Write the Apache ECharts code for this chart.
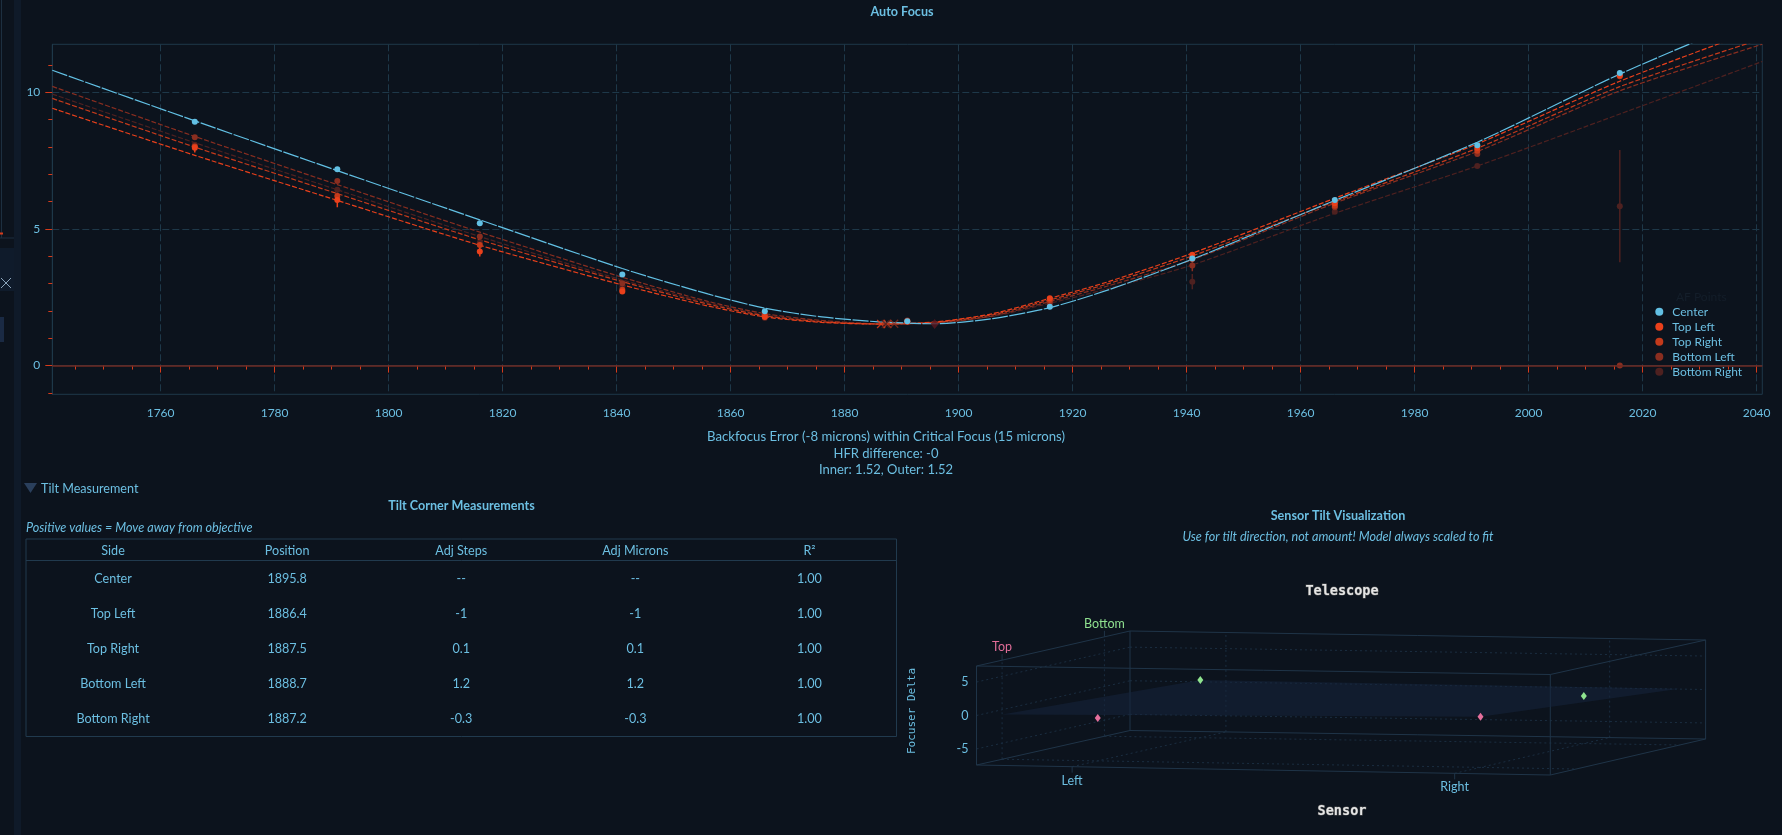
<!DOCTYPE html>
<html>
<head>
<meta charset="utf-8">
<script src="https://cdn.jsdelivr.net/npm/echarts@6.0.0/dist/echarts.min.js"></script>
<style>
html,body{margin:0;padding:0;background:#0c131d;}
#c{width:1782px;height:835px;}
</style>
</head>
<body>
<div id="c"></div>
<script>
// ---------------- DATA ----------------
const seriesNames = ['Center', 'Top Left', 'Top Right', 'Bottom Left', 'Bottom Right'];
const focusPositions = [1766, 1791, 1816, 1841, 1866, 1891, 1916, 1941, 1966, 1991, 2016];
const hfrCenter      = [8.92, 7.18, 5.21, 3.33, 1.99, 1.62, 2.15, 3.92, 6.06, 8.06, 10.70];
const hfrTopLeft     = [7.97, 6.06, 4.17, 2.71, 1.78, 1.60, 2.46, 4.05, 5.94, 7.97, 10.62];
const hfrTopRight    = [8.01, 6.20, 4.41, 2.77, 1.82, 1.62, 2.40, 3.90, 5.85, 7.86, 10.58];
const hfrBottomLeft  = [8.35, 6.75, 4.72, 3.01, 1.86, 1.65, 2.32, 3.66, 5.79, 7.74, 0];
const hfrBottomRight = [8.08, 6.43, 4.50, 2.89, 1.74, 1.60, 2.25, 3.07, 5.63, 7.30, 5.83];

const errCenter      = [0, 0, 0, 0, 0, 0, 0, 0, 0, 0, 0];
const errTopLeft     = [0.18, 0.27, 0.18, 0, 0, 0, 0, 0, 0, 0, 0];
const errTopRight    = [0, 0, 0, 0, 0, 0, 0, 0, 0, 0, 0];
const errBottomLeft  = [0, 0, 0, 0, 0, 0, 0, 0.21, 0, 0, 0];
const errBottomRight = [0, 0, 0, 0, 0, 0, 0, 0.28, 0, 0, 2.05];

const fitPositions   = [1741, 1766, 1791, 1816, 1841, 1856, 1866, 1876, 1886, 1896, 1906, 1916, 1926, 1941, 1966, 1991, 2016, 2041];
const fitCenter      = [10.80, 8.95, 7.13, 5.33, 3.55, 2.62, 2.10, 1.78, 1.60, 1.53, 1.72, 2.12, 2.75, 3.89, 6.04, 8.17, 10.66, 12.88];
const fitTopLeft     = [9.41, 7.69, 6.04, 4.40, 2.95, 2.18, 1.78, 1.58, 1.52, 1.60, 1.90, 2.46, 3.05, 4.11, 6.12, 8.11, 10.40, 12.35];
const fitTopRight    = [9.77, 7.99, 6.29, 4.60, 3.07, 2.25, 1.82, 1.60, 1.52, 1.58, 1.86, 2.40, 2.98, 4.01, 6.00, 7.95, 10.20, 11.95];
const fitBottomLeft  = [10.21, 8.38, 6.62, 4.88, 3.23, 2.35, 1.90, 1.65, 1.53, 1.56, 1.82, 2.34, 2.90, 3.87, 5.94, 7.83, 10.05, 11.75];
const fitBottomRight = [9.93, 8.15, 6.43, 4.72, 3.13, 2.30, 1.85, 1.62, 1.52, 1.56, 1.80, 2.28, 2.80, 3.68, 5.57, 7.30, 9.20, 11.12];

const minimaHfr = [1.52, 1.52, 1.52, 1.53, 1.52];

const xTickLabels = [1760, 1780, 1800, 1820, 1840, 1860, 1880, 1900, 1920, 1940, 1960, 1980, 2000, 2020, 2040];
const yTickLabels = [0, 5, 10];

// table
const tableHeaders    = ['Side', 'Position', 'Adj Steps', 'Adj Microns', 'R\u00b2'];
const tableSides      = ['Center', 'Top Left', 'Top Right', 'Bottom Left', 'Bottom Right'];
const tablePositions  = [1895.8, 1886.4, 1887.5, 1888.7, 1887.2];
const tableAdjSteps   = ['--', '-1', '0.1', '1.2', '-0.3'];
const tableAdjMicrons = ['--', '-1', '0.1', '1.2', '-0.3'];
const tableR2         = ['1.00', '1.00', '1.00', '1.00', '1.00'];

// tilt model
const tiltNames  = ['Top Left', 'Top Right', 'Bottom Left', 'Bottom Right'];
const tiltX      = [-1, 1, -1, 1];
const tiltY      = [-1, -1, 1, 1];
const tiltDelta  = [-1, 0.1, 1.2, -0.3];
const planeX = [-1.5, 1, 1.5, -1];
const planeY = [-1, -1, 1, 1];
const planeZ = [-0.72, 0.1, 0.99, 1.2];
const tiltZTicks = [-5, 0, 5];
const tiltXTicks = [-1, 1];
const tiltXTickText = ['Left', 'Right'];
const tiltYTicks = [-1, 1];
const tiltYTickText = ['Top', 'Bottom'];

// ---------------- STYLE ----------------
const colors = ['#62c0e4', '#ea401b', '#c43a1b', '#8a2e20', '#4e2120'];
const textColor = '#6cbfe2';
const uiFont = 'Lato, "Segoe UI", "Noto Sans", sans-serif';
const uiSize = 12.6;
const gridColor = '#1e3849';
const tickRed = '#d63b1b';

const hfrData = [hfrCenter, hfrTopLeft, hfrTopRight, hfrBottomLeft, hfrBottomRight];
const errData = [errCenter, errTopLeft, errTopRight, errBottomLeft, errBottomRight];
const fitData = [fitCenter, fitTopLeft, fitTopRight, fitBottomLeft, fitBottomRight];

const series = [];
const drawOrder = [4, 3, 2, 1, 0];
drawOrder.forEach(i => {
  series.push({
    type: 'line', name: seriesNames[i],
    data: fitPositions.map((x, k) => [x, fitData[i][k]]),
    showSymbol: false, symbol: 'none', smooth: 0.25,
    color: colors[i], itemStyle: {color: colors[i]},
    lineStyle: {color: colors[i], width: 1.2, type: i === 0 ? [16, 1.5] : [5, 2]},
    z: 2, silent: true, clip: true
  });
});
drawOrder.forEach(i => {
  const data = [];
  focusPositions.forEach((x, k) => { if (errData[i][k] > 0) data.push([x, hfrData[i][k] - errData[i][k], hfrData[i][k] + errData[i][k]]); });
  series.push({
    type: 'custom', coordinateSystem: 'cartesian2d', data: data, z: 3, silent: true,
    encode: {x: 0, y: [1, 2]},
    renderItem: function (p, api) {
      const a = api.coord([api.value(0), api.value(1)]);
      const b = api.coord([api.value(0), api.value(2)]);
      return {type: 'line', shape: {x1: a[0], y1: a[1], x2: b[0], y2: b[1]}, style: {stroke: colors[i], lineWidth: 1.5}};
    }
  });
});
drawOrder.forEach(i => {
  series.push({
    type: 'scatter', name: seriesNames[i],
    data: focusPositions.map((x, k) => [x, hfrData[i][k]]),
    symbol: 'circle', symbolSize: 6,
    color: colors[i], itemStyle: {color: colors[i], opacity: 1},
    z: 4, silent: true,
    markLine: i === 4 ? {
      silent: true, symbol: 'none', label: {show: false},
      lineStyle: {color: '#6f2a22', type: 'solid', width: 1.6},
      data: [{yAxis: 0}]
    } : undefined
  });
});
// minima markers (corner fits: X, center: diamond)
series.push({
  type: 'scatter', name: 'minima', silent: true, z: 5,
  data: [1, 2, 3, 4].map(i => ({
    value: [tablePositions[i], minimaHfr[i]],
    itemStyle: {color: 'rgba(0,0,0,0)', borderColor: colors[i], borderWidth: 1.3}
  })),
  symbol: 'path://M0,0L10,10M10,0L0,10', symbolSize: 8
});
series.push({
  type: 'scatter', name: 'centerMin', silent: true, z: 5,
  data: [[tablePositions[0], minimaHfr[0]]],
  symbol: 'diamond', symbolSize: [8, 10], itemStyle: {color: '#5a1820'}
});

// ---------------- 3D TILT MODEL ----------------
const box = {xr: [-1.5, 1.5], yr: [-1.5, 1.5], zr: [-7.4, 7.4]};
const boxPx = {
  '000': [976.5, 765], '100': [1550.3, 775], '010': [1130, 730.5], '110': [1705.6, 739],
  '001': [976.5, 666], '101': [1550.3, 674.5], '011': [1130, 631], '111': [1705.6, 640]
};
function proj(x, y, z) {
  const u = (x - box.xr[0]) / (box.xr[1] - box.xr[0]);
  const v = (y - box.yr[0]) / (box.yr[1] - box.yr[0]);
  const w = (z - box.zr[0]) / (box.zr[1] - box.zr[0]);
  let px = 0, py = 0;
  [0, 1].forEach(a => [0, 1].forEach(b => [0, 1].forEach(c => {
    const wt = (a ? u : 1 - u) * (b ? v : 1 - v) * (c ? w : 1 - w);
    const p = boxPx['' + a + b + c];
    px += wt * p[0]; py += wt * p[1];
  })));
  return [px, py];
}
function seg(p, q, stroke, dash) {
  return {type: 'line', shape: {x1: p[0], y1: p[1], x2: q[0], y2: q[1]},
    style: {stroke: stroke, lineWidth: 1, lineDash: dash || null}};
}
const X0 = box.xr[0], X1 = box.xr[1], Y0 = box.yr[0], Y1 = box.yr[1], Z0 = box.zr[0], Z1 = box.zr[1];
const edgeColor = '#1f3448', dashColor = '#1a2d40';
series.push({
  type: 'custom', coordinateSystem: 'none', data: [[0]], silent: true, z: 1,
  renderItem: function () {
    const ch = [];
    tiltZTicks.forEach(z => {
      ch.push(seg(proj(X0, Y0, z), proj(X0, Y1, z), dashColor, [2, 3]));
      ch.push(seg(proj(X0, Y1, z), proj(X1, Y1, z), dashColor, [2, 3]));
    });
    tiltXTicks.forEach(x => {
      ch.push(seg(proj(x, Y1, Z0), proj(x, Y1, Z1), dashColor, [2, 3]));
      ch.push(seg(proj(x, Y0, Z0), proj(x, Y1, Z0), dashColor, [2, 3]));
    });
    tiltYTicks.forEach(y => {
      ch.push(seg(proj(X0, y, Z0), proj(X0, y, Z1), dashColor, [2, 3]));
      ch.push(seg(proj(X0, y, Z0), proj(X1, y, Z0), dashColor, [2, 3]));
    });
    const C = [[X0, Y0], [X1, Y0], [X1, Y1], [X0, Y1]];
    for (let k = 0; k < 4; k++) {
      const a = C[k], b = C[(k + 1) % 4];
      ch.push(seg(proj(a[0], a[1], Z0), proj(b[0], b[1], Z0), edgeColor));
      ch.push(seg(proj(a[0], a[1], Z1), proj(b[0], b[1], Z1), edgeColor));
      ch.push(seg(proj(a[0], a[1], Z0), proj(a[0], a[1], Z1), edgeColor));
    }
    tiltXTicks.forEach((x, k) => {
      const p = proj(x, Y0, Z0);
      ch.push(seg(p, [p[0], p[1] + 6], edgeColor));
      ch.push({type: 'text', style: {text: tiltXTickText[k], x: p[0], y: p[1] + 14, fill: textColor,
        fontSize: 12.5, fontFamily: uiFont, textAlign: 'center', textVerticalAlign: 'middle'}});
    });
    tiltYTicks.forEach((y, k) => {
      const p = proj(X0, y, Z1);
      ch.push(seg(p, [p[0], p[1] - 6], edgeColor));
      ch.push({type: 'text', style: {text: tiltYTickText[k], x: p[0], y: p[1] - 13,
        fill: k === 0 ? '#e06d98' : '#8fe08f', fontSize: 12.5, fontFamily: uiFont,
        textAlign: 'center', textVerticalAlign: 'middle'}});
    });
    tiltZTicks.forEach(z => {
      const p = proj(X0, Y0, z);
      ch.push({type: 'text', style: {text: String(z), x: p[0] - 8, y: p[1], fill: textColor,
        fontSize: 12.5, fontFamily: uiFont, textAlign: 'right', textVerticalAlign: 'middle'}});
    });
    ch.push({type: 'polygon', shape: {points: planeX.map((x, k) => proj(x, planeY[k], planeZ[k]))},
      style: {fill: 'rgba(22,36,60,0.55)', stroke: null}});
    return {type: 'group', children: ch};
  }
});
series.push({
  type: 'custom', coordinateSystem: 'none', silent: true, z: 6,
  data: tiltNames.map((n, k) => [tiltX[k], tiltY[k], tiltDelta[k]]),
  renderItem: function (p, api) {
    const c = proj(api.value(0), api.value(1), api.value(2));
    const col = api.value(1) < 0 ? '#e56f9c' : '#8fe48f';
    return {type: 'polygon', shape: {points: [[c[0], c[1] - 4], [c[0] + 3, c[1]], [c[0], c[1] + 4], [c[0] - 3, c[1]]]},
      style: {fill: col}};
  }
});

// ---------------- GRAPHIC (texts, table, chrome) ----------------
function txt(text, x, y, opt) {
  opt = opt || {};
  return {type: 'text', silent: true, z: 10, x: opt.ex || 0, y: opt.ey || 0, rotation: opt.rot || 0,
    style: Object.assign({text: text, x: x, y: y, fill: textColor, fontSize: uiSize, fontFamily: uiFont,
      textAlign: 'center', textVerticalAlign: 'middle'}, opt.style || {})};
}
const graphics = [];
graphics.push({type: 'rect', silent: true, shape: {x: 14, y: 0, width: 7, height: 835}, style: {fill: '#0f1a29'}});
graphics.push({type: 'line', silent: true, shape: {x1: 1.5, y1: 0, x2: 1.5, y2: 238}, style: {stroke: '#1d2f40', lineWidth: 1}});
graphics.push({type: 'line', silent: true, shape: {x1: 0, y1: 238, x2: 14, y2: 238}, style: {stroke: '#1d2f40', lineWidth: 1}});
graphics.push({type: 'rect', silent: true, shape: {x: 0, y: 232.5, width: 3, height: 2}, style: {fill: tickRed}});
graphics.push({type: 'rect', silent: true, shape: {x: 0, y: 248, width: 14, height: 43}, style: {fill: '#0f1b2b'}});
graphics.push({type: 'line', silent: true, shape: {x1: 1, y1: 278, x2: 11, y2: 288}, style: {stroke: '#8aa4bb', lineWidth: 1}});
graphics.push({type: 'line', silent: true, shape: {x1: 11, y1: 278, x2: 1, y2: 288}, style: {stroke: '#8aa4bb', lineWidth: 1}});
graphics.push({type: 'rect', silent: true, shape: {x: 0, y: 317, width: 4, height: 25}, style: {fill: '#1a2a44'}});
graphics.push(txt('Auto Focus', 902, 11.5, {style: {fontWeight: 'bold'}}));
graphics.push(txt('Backfocus Error (-8 microns) within Critical Focus (15 microns)', 886, 436.5, {style: {fontSize: 13.2}}));
graphics.push(txt('HFR difference: -0', 886, 453.5, {style: {fontSize: 13}}));
graphics.push(txt('Inner: 1.52, Outer: 1.52', 886, 469.5, {style: {fontSize: 13}}));
graphics.push(txt('AF Points', 1676, 297, {style: {textAlign: 'left', fill: '#141e2a', fontSize: 12}}));
graphics.push({type: 'polygon', silent: true, shape: {points: [[24, 483], [37, 483], [30.5, 493]]}, style: {fill: '#2a3f5c'}});
graphics.push(txt('Tilt Measurement', 41, 489, {style: {textAlign: 'left'}}));
graphics.push(txt('Tilt Corner Measurements', 461.5, 505.5, {style: {fontWeight: 'bold'}}));
graphics.push(txt('Positive values = Move away from objective', 26, 527.5, {style: {textAlign: 'left', fontStyle: 'italic'}}));
const tL = 26, tR = 896.5, tT = 539, tB = 736.5, tHead = 560.5;
graphics.push({type: 'rect', silent: true, shape: {x: tL, y: tT, width: tR - tL, height: tB - tT}, style: {fill: null, stroke: '#213a4e', lineWidth: 1}});
graphics.push({type: 'line', silent: true, shape: {x1: tL, y1: tHead, x2: tR, y2: tHead}, style: {stroke: '#213a4e', lineWidth: 1}});
const colW = (tR - tL) / tableHeaders.length;
const colX = tableHeaders.map((h, k) => tL + colW * (k + 0.5));
tableHeaders.forEach((h, k) => graphics.push(txt(h, colX[k], 551)));
const rowY = [579, 614, 649, 684, 719];
tableSides.forEach((s, r) => {
  const row = [s, tablePositions[r].toFixed(1), tableAdjSteps[r], tableAdjMicrons[r], tableR2[r]];
  row.forEach((v, k) => graphics.push(txt(v, colX[k], rowY[r])));
});
graphics.push(txt('Sensor Tilt Visualization', 1338, 516, {style: {fontWeight: 'bold'}}));
graphics.push(txt('Use for tilt direction, not amount! Model always scaled to fit', 1338, 536.5, {style: {fontStyle: 'italic'}}));
graphics.push(txt('Telescope', 1342, 591, {style: {fontFamily: '"DejaVu Sans Mono", monospace', fontWeight: 'bold', fontSize: 13.5, fill: '#e4e4e4', stroke: '#555', lineWidth: 1}}));
graphics.push(txt('Sensor', 1342, 811.5, {style: {fontFamily: '"DejaVu Sans Mono", monospace', fontWeight: 'bold', fontSize: 13.5, fill: '#e4e4e4', stroke: '#555', lineWidth: 1}}));
graphics.push(txt('Focuser Delta', 0, 0, {ex: 912, ey: 711, rot: Math.PI / 2, style: {fontFamily: '"DejaVu Sans Mono", monospace', fontSize: 11}}));

// ---------------- OPTION ----------------
const chart = echarts.init(document.getElementById('c'));
chart.setOption({
  backgroundColor: '#0c131d',
  animation: false,
  grid: {left: 52.3, right: 19.7, top: 44.3, bottom: 440.7, show: true, borderColor: gridColor, borderWidth: 1, containLabel: false},
  xAxis: {
    type: 'value', min: 1741, max: 2041, splitNumber: 15, minInterval: 20, maxInterval: 20,
    axisLine: {show: true, lineStyle: {color: gridColor}},
    axisTick: {show: true, length: 7, lineStyle: {color: tickRed}, customValues: xTickLabels},
    minorTick: {show: true, splitNumber: 4, length: 4, lineStyle: {color: tickRed}},
    axisLabel: {color: textColor, fontSize: 12, fontFamily: uiFont, margin: 13, customValues: xTickLabels,
      formatter: v => (xTickLabels.indexOf(Math.round(v)) >= 0 && Math.abs(v - Math.round(v)) < 1e-6) ? String(Math.round(v)) : ''},
    splitLine: {show: true, lineStyle: {color: gridColor, type: [7, 3], width: 1}},
    minorSplitLine: {show: false}
  },
  yAxis: {
    type: 'value', min: -1.05, max: 11.75, splitNumber: 3, minInterval: 5, maxInterval: 5,
    axisLine: {show: true, lineStyle: {color: gridColor}},
    axisTick: {show: true, length: 7, lineStyle: {color: tickRed}, customValues: yTickLabels},
    minorTick: {show: true, splitNumber: 5, length: 4, lineStyle: {color: tickRed}},
    axisLabel: {color: textColor, fontSize: 12, fontFamily: uiFont, margin: 12, customValues: yTickLabels,
      formatter: v => (yTickLabels.indexOf(Math.round(v)) >= 0 && Math.abs(v - Math.round(v)) < 1e-6) ? String(Math.round(v)) : ''},
    splitLine: {show: true, lineStyle: {color: gridColor, type: [7, 3], width: 1}}
  },
  legend: {
    show: true, orient: 'vertical', left: 1655.3, top: 304.2, padding: 0, itemGap: 0,
    itemWidth: 16, itemHeight: 8, icon: 'circle',
    data: seriesNames.map(n => ({name: n, icon: 'circle'})),
    textStyle: {color: textColor, fontSize: 12, fontFamily: uiFont, lineHeight: 15},
    selectedMode: false
  },
  graphic: {elements: graphics},
  series: series
});
</script>
</body>
</html>
